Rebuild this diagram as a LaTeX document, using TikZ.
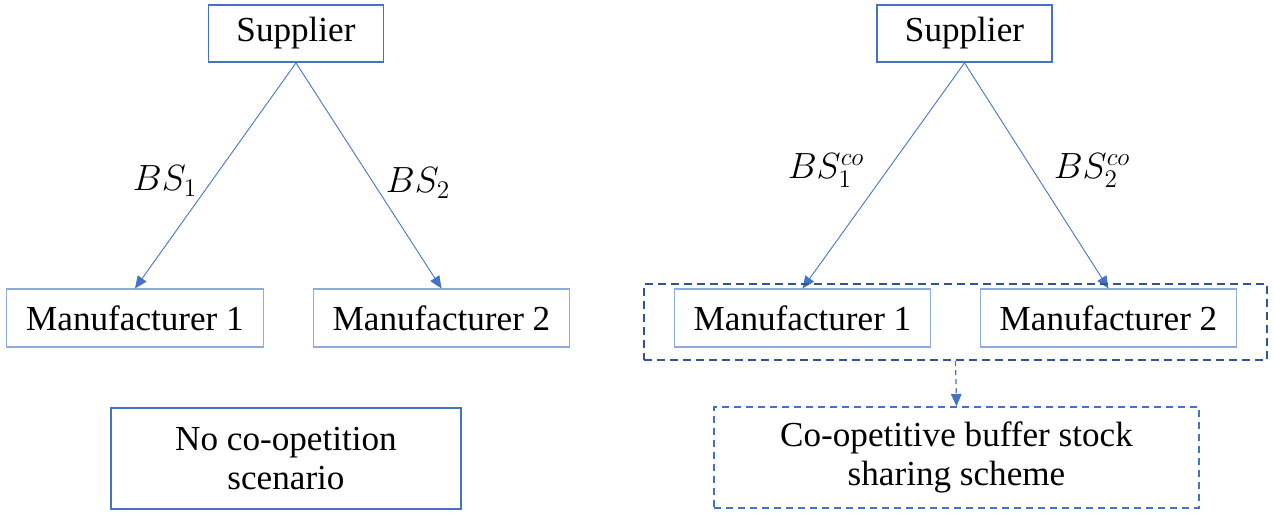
\documentclass[tikz,border=0pt]{standalone}
\usepackage{fontspec}
\setmainfont{Liberation Serif}
\usepackage{tikz}
\usetikzlibrary{arrows.meta,positioning}
\definecolor{Edge}{HTML}{4472C4}
\definecolor{Pale}{HTML}{8FAADC}
\definecolor{Deep}{HTML}{2F5597}
\tikzset{
  every node/.style={font=\fontsize{20}{22}\selectfont,inner sep=0pt},
  supbox/.style={draw=Edge,line width=1pt,minimum width=3.5cm,minimum height=1.14cm},
  manbox/.style={draw=Pale,line width=0.6pt,minimum width=5.13cm,minimum height=1.16cm},
  scenbox/.style={draw=Edge,line width=1pt,minimum height=2.02cm,align=center},
  lbl/.style={text=black,font=\fontsize{21.5}{24}\selectfont},
  flow/.style={Edge,line width=0.5pt,-{Triangle[length=7pt,width=6pt]}}
}
\begin{document}
\begin{tikzpicture}[x=0.02cm,y=-0.02cm]
  \useasboundingbox (0,0) rectangle (1274,515);
  \node[supbox] (lsup) at (296,33.5) {Supplier};
  \node[manbox] (lm1) at (135,318) {Manufacturer 1};
  \node[manbox] (lm2) at (441.5,318) {Manufacturer 2};
  \draw[flow] (lsup.south) -- (lm1.north);
  \draw[flow] (lsup.south) -- (lm2.north);
  \node[lbl] (lbs1) at (165,181) {$BS_1$};
  \node[lbl] (lbs2) at (418,183) {$BS_2$};
  \node[scenbox,minimum width=7cm] (nocoop) at (286,458.5) {No co-opetition\\scenario};
  \node[supbox] (rsup) at (964.5,33.5) {Supplier};
  \node[manbox] (rm1) at (802.5,318) {Manufacturer 1};
  \node[manbox] (rm2) at (1108.5,318) {Manufacturer 2};
  \draw[flow] (rsup.south) -- (rm1.north);
  \draw[flow] (rsup.south) -- (rm2.north);
  \node[lbl] (rbs1) at (826,171) {$BS_1^{co}$};
  \node[lbl] (rbs2) at (1092,171) {$BS_2^{co}$};
  \node[draw=Deep,line width=1.2pt,dash pattern=on 0.16cm off 0.1cm,minimum width=12.46cm,minimum height=1.52cm] (share) at (955.5,322) {};
  \node[scenbox,line width=0.8pt,dash pattern=on 0.14cm off 0.1cm,minimum width=9.7cm] (coop) at (956.5,457.5) {Co-opetitive buffer stock\\sharing scheme};
  \draw[flow,line width=0.7pt,dash pattern=on 0.1cm off 0.08cm] (share.south) -- (coop.north);
\end{tikzpicture}
\end{document}
